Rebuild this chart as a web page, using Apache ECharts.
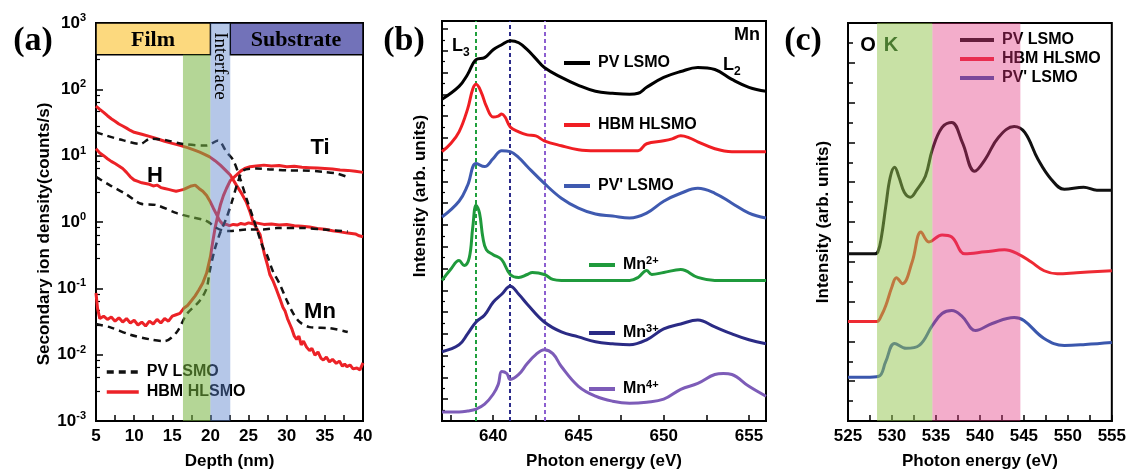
<!DOCTYPE html>
<html><head><meta charset="utf-8">
<script src="https://cdn.jsdelivr.net/npm/echarts@6/dist/echarts.min.js"></script>
<style>html,body{margin:0;padding:0;background:#fff}#c{width:1129px;height:475px}</style>
</head><body><div id="c"></div><script>
// ---------- Panel (a): SIMS depth profiles [depth nm, counts/s] ----------
const aHbmMn = [[5,56],[5.5,50],[6,45],[6.5,40],[7,36],[7.5,33],[8,30],[8.5,28],[9,26],[9.5,24],[10,22.5],[11,21],[12,19.5],[13,18],[14,16.5],[15,15.3],[16,14.3],[17,13.2],[18,12],[18.6,11.3],[19.3,10.4],[19.9,9.6],[20.6,8.4],[21.3,7.2],[22,6],[22.6,5.1],[23.4,3.6],[24,2.8],[24.7,2.0],[25.2,1.4],[25.6,1.0],[26,0.82],[26.5,0.65],[26.8,0.45],[27.1,0.32],[27.5,0.22],[27.8,0.16],[28.2,0.13],[28.7,0.093],[29.1,0.07],[29.5,0.052],[29.8,0.045],[30.1,0.035],[30.4,0.029],[30.7,0.024],[31,0.019],[31.3,0.017],[31.6,0.019],[31.9,0.014],[32.2,0.016],[32.6,0.013],[33,0.0115],[33.3,0.0125],[33.7,0.0098],[34.1,0.011],[34.5,0.0088],[34.8,0.0083],[35.2,0.0092],[35.6,0.0078],[36,0.0085],[36.5,0.0074],[36.9,0.008],[37.3,0.0067],[37.6,0.0072],[37.9,0.0066],[38.3,0.007],[38.7,0.0061],[39.2,0.0063],[39.6,0.0059],[40,0.0075]];
const aHbmH = [[5,12.7],[5.5,11],[6,10],[6.5,9],[7,8.2],[7.5,7.6],[8,7],[8.5,6.4],[9,5.6],[9.5,4.8],[10,4.3],[10.5,4.1],[11,3.9],[11.5,3.8],[12,3.7],[12.5,3.5],[13,3.6],[13.5,3.3],[14,3.2],[14.5,3.1],[15,3.0],[15.5,2.9],[16,3.0],[16.5,3.1],[17,3.3],[17.5,3.5],[18,3.6],[18.5,3.2],[19,2.9],[19.5,2.5],[20,2.0],[20.4,1.6],[20.8,1.3],[21.2,1.05],[21.7,0.9],[22,0.93],[22.5,0.88],[23,0.92],[23.5,0.9],[24,0.95],[24.5,0.92],[25,0.97],[25.5,0.94],[26,0.97],[27,0.92],[28,0.93],[29,0.9],[30,0.92],[31,0.88],[32,0.86],[33,0.84],[34,0.8],[35,0.78],[36,0.74],[37,0.71],[38,0.68],[39,0.66],[39.5,0.62],[40,0.6]];
const aHbmTi = [[5,0.085],[5.2,0.05],[5.5,0.035],[6,0.038],[6.5,0.034],[7,0.037],[7.5,0.032],[8,0.036],[8.5,0.031],[9,0.035],[9.5,0.03],[10,0.033],[10.5,0.028],[11,0.031],[11.5,0.027],[12,0.032],[12.5,0.029],[13,0.034],[13.5,0.03],[14,0.035],[14.5,0.032],[15,0.038],[15.5,0.04],[16,0.042],[16.5,0.05],[17,0.055],[17.5,0.065],[18,0.077],[18.5,0.095],[19,0.12],[19.5,0.17],[20,0.3],[20.3,0.5],[20.6,0.8],[21,1.3],[21.3,1.8],[21.7,2.5],[22.1,3.2],[22.6,4.2],[23.4,5.1],[24,5.9],[24.5,6.4],[25.2,6.8],[26,7.0],[27,7.2],[28,7.0],[29,7.1],[30,6.8],[31,6.9],[32,6.7],[33,6.6],[34,6.5],[35,6.4],[36,6.3],[37,6.1],[38,6.0],[39,5.8],[40,5.6]];
const aPvMn = [[5,22.6],[6.4,20],[8.6,17],[10.8,15],[12.1,18],[14.3,17],[16.4,15],[19.5,14.2],[21,17],[22.1,11.4],[23,8.5],[23.9,4.5],[24.7,2.3],[25.6,1.15],[26.3,0.65],[26.9,0.41],[27.4,0.32],[28.2,0.18],[29.1,0.115],[30,0.066],[30.9,0.041],[31.7,0.031],[33,0.026],[35.7,0.025],[38,0.022]];
const aPvTi = [[5,0.029],[6.8,0.026],[9.5,0.02],[12.1,0.017],[14,0.016],[15.6,0.022],[16.9,0.041],[18.6,0.065],[19.5,0.1],[19.9,0.18],[20.6,0.4],[21.3,0.7],[22.1,1.15],[22.8,2.0],[23.6,4.0],[24.3,6.0],[26,6.4],[28,6.2],[30.4,6.0],[32,6.0],[34.8,5.7],[36.5,5.4],[37.9,4.8]];
const aPvH = [[5,4.8],[6.8,3.6],[9,2.6],[10.8,1.9],[12.9,1.8],[15.6,1.36],[17.3,1.2],[19.1,1.08],[19.9,0.97],[20.5,0.85],[21.5,0.75],[22.6,0.73],[24.7,0.77],[26.9,0.77],[28.7,0.81],[32.2,0.81],[34.8,0.77],[37.4,0.73],[38,0.72]];
const aGreenBand = [16.4, 20];
const aInterfaceBand = [20, 22.6];

// ---------- Panel (b): Mn L-edge XAS [eV, intensity offset a.u.] ----------
const bPv = [[637,325],[638,338],[638.5,350],[639,365],[639.5,367],[640,375],[640.5,380],[641,384],[641.5,382],[642,375],[642.5,366],[643,357],[644,347],[645,339],[646,333],[647,331],[648,330],[648.5,331],[649,337],[650,347],[651,353],[652,357],[653,355],[654,345],[655,337],[656,333]];
const bHbm = [[637,272],[637.5,280],[638,292],[638.5,315],[638.8,335],[639,340],[639.3,332],[639.6,318],[640,307],[640.3,308],[640.5,310],[640.7,307],[641,297],[641.5,292],[642,289],[642.5,288],[643,283],[644,278],[645,274],[646,273],[647,273],[648,273],[648.5,273],[649,280],[650,283],[650.5,285],[651,288],[651.5,286],[652,282],[653,275],[654,272],[655,272],[656,272]];
const bPvp = [[637,206],[638,222],[638.5,238],[639,260],[639.5,257],[640,265],[640.5,273],[641,272],[641.5,266],[642,257],[643,240],[644,225],[645,215],[646,209],[647,207],[648,205],[649,210],[650,222],[651,230],[652,235],[653,230],[654,220],[655,210],[656,205]];
const bMn2 = [[637,142],[637.5,153],[638,162],[638.3,157],[638.6,165],[638.8,195],[639,218],[639.2,210],[639.4,185],[639.6,173],[640,168],[640.5,163],[641,148],[641.5,145],[642,148],[642.3,150],[643,148],[643.5,143],[644,142],[645,142],[646,142],[647,142],[648,142],[648.5,145],[649,152],[649.3,148],[650,150],[651,153],[652,145],[653,142],[654,142],[655,142],[656,142]];
const bMn3 = [[637,70],[638,77],[638.5,88],[639,100],[639.5,107],[640,120],[640.5,128],[641,136],[641.5,128],[642,118],[643,100],[644,90],[645,85],[646,80],[647,78],[648,77],[649,82],[650,93],[651,98],[652,102],[653,95],[654,88],[655,82],[656,78]];
const bMn4 = [[637,9],[638,9],[638.5,10],[639,12],[639.5,17],[640,27],[640.3,37],[640.5,50],[640.8,48],[641,42],[641.5,47],[642,58],[642.5,67],[643,72],[643.5,68],[644,55],[645,35],[646,25],[647,20],[648,18],[649,19],[650,22],[651,32],[652,38],[653,47],[653.5,48],[654,47],[655,35],[656,25]];
const bRefLines = [639, 641, 643];
const bXLabels = [640, 645, 650, 655];
const bXTicks = [637.5, 640, 642.5, 645, 647.5, 650, 652.5, 655];

// ---------- Panel (c): O K-edge XAS ----------
const cPv = [[525,168],[526,168],[527,168],[528,168],[528.4,170],[528.8,185],[529.3,216],[529.8,245],[530.3,255],[530.8,245],[531.4,230],[532.1,225],[532.8,232],[533.8,246],[534.6,273],[535.7,295],[536.8,300],[538,280],[539.4,251],[540.6,263],[542.1,285],[543.9,296],[545.1,290],[546.6,263],[548.1,243],[549.6,233],[551.8,235],[553.3,232],[555,232]];
const cHbm = [[525,100],[526,100],[527,100],[528.3,100],[528.8,106],[529.3,116],[530,135],[530.5,144],[531.2,138],[532.3,160],[533.3,190],[534.2,180],[535.7,187],[536.8,185],[538.3,168],[540.6,170],[542.8,172],[544.3,168],[545.8,160],[547.3,151],[548.8,148],[551,149],[555,151]];
const cPvp = [[525,44],[526,44],[527,44],[528.5,45],[529.3,60],[530.3,78],[531.6,73],[533.1,76],[534.6,96],[535.7,108],[536.8,111],[538,105],[539.5,91],[541.4,98],[543.9,104],[545,101],[547.3,83],[549.6,76],[552,77],[555,79]];
const cGreenBand = [528.3, 534.6];
const cPinkBand = [534.6, 544.6];

const SANS = 'Liberation Sans, Arial, sans-serif';
const SERIF = 'Liberation Serif, Times New Roman, serif';
const chart = echarts.init(document.getElementById('c'));

function line(name, data, idx, color, width, dash, smooth) {
  return {type: 'line', name: name, data: data, xAxisIndex: idx, yAxisIndex: idx,
    symbol: 'none', showSymbol: false, smooth: smooth || false, z: 2,
    lineStyle: {color: color, width: width, type: dash || 'solid'}, itemStyle: {color: color}};
}
const FS = 17;
function xAx(idx, min, max, name, extra) {
  return Object.assign({gridIndex: idx, type: 'value', min: min, max: max,
    axisLine: {show: true, onZero: false, lineStyle: {color: '#000', width: 2}},
    axisTick: {inside: true, length: 6, lineStyle: {color: '#000', width: 1.5}},
    minorTick: {show: true, splitNumber: 2, length: 6, lineStyle: {color: '#000', width: 1.5}},
    axisLabel: {color: '#000', fontSize: FS, fontWeight: 'bold', fontFamily: SANS, margin: 7},
    splitLine: {show: false},
    name: name, nameLocation: 'middle', nameGap: 32,
    nameTextStyle: {color: '#000', fontSize: FS, fontWeight: 'bold', fontFamily: SANS}}, extra);
}
const supRich = {
  b: {fontSize: FS, fontWeight: 'bold', fontFamily: SANS, color: '#000'},
  s: {fontSize: 11, fontWeight: 'bold', fontFamily: SANS, color: '#000', verticalAlign: 'bottom', padding: [0, 0, 10, 0]}
};
const legendFmt = n => {
  const t = n.slice(2);
  const m = t.match(/^Mn(\d\+)$/);
  return m ? '{n|Mn}{s|' + m[1] + '}' : '{n|' + t + '}';
};
const legText = {color: '#000', fontSize: 16, fontWeight: 'bold', fontFamily: SANS, padding: [0, 0, 0, 3],
  rich: {n: {fontSize: 16, fontWeight: 'bold', fontFamily: SANS, color: '#000', lineHeight: 18},
         s: {fontSize: 11, fontWeight: 'bold', fontFamily: SANS, color: '#000', verticalAlign: 'bottom', padding: [0, 0, 9, 0]}}};
function leg(names, left, top, w, gap, lw) {
  return {data: names, left: left, top: top, orient: 'vertical', padding: 0, itemWidth: w, itemHeight: 14,
    itemGap: gap, z: 1, selectedMode: false, formatter: legendFmt, textStyle: legText,
    itemStyle: {opacity: 0}, lineStyle: {width: lw}};
}

const RED = '#ec2227', BLK = '#111111';
const option = {
  animation: false,
  backgroundColor: '#fff',
  grid: [
    {left: 96, top: 23, width: 267, height: 402, show: true, borderColor: '#000', borderWidth: 2, backgroundColor: 'transparent'},
    {left: 442, top: 21, width: 324, height: 404, show: true, borderColor: '#000', borderWidth: 2, backgroundColor: 'transparent'},
    {left: 848, top: 23, width: 267, height: 400, show: true, borderColor: '#000', borderWidth: 2, backgroundColor: 'transparent'}
  ],
  xAxis: [
    xAx(0, 5, 40, 'Depth (nm)', {interval: 5}),
    xAx(1, 637, 656, 'Photon energy (eV)', {minorTick: {show: false},
      axisLabel: {color: '#000', fontSize: FS, fontWeight: 'bold', fontFamily: SANS, margin: 7, customValues: bXLabels},
      axisTick: {inside: true, length: 6, lineStyle: {color: '#000', width: 1.5}, customValues: bXTicks}}),
    xAx(2, 525, 555, 'Photon energy (eV)', {interval: 5})
  ],
  yAxis: [
    {gridIndex: 0, type: 'log', logBase: 10, min: 0.001, max: 1000, splitNumber: 6,
      axisLine: {show: true, lineStyle: {color: '#000', width: 2}},
      axisTick: {inside: true, length: 7, lineStyle: {color: '#000', width: 1.5}},
      minorTick: {show: true, splitNumber: 5, length: 4, lineStyle: {color: '#000', width: 1.2}},
      splitLine: {show: false},
      axisLabel: {margin: 10, formatter: v => '{b|10}{s|' + Math.round(Math.log10(v)) + '}', rich: supRich},
      name: 'Secondary ion density(counts/s)', nameLocation: 'middle', nameGap: 43,
      nameTextStyle: {color: '#000', fontSize: FS, fontWeight: 'bold', fontFamily: SANS, padding: [0, 24, 0, 0]}},
    {gridIndex: 1, type: 'value', min: 0, max: 404, interval: 22,
      axisLine: {show: true, lineStyle: {color: '#000', width: 2}},
      axisTick: {inside: true, length: 6, lineStyle: {color: '#000', width: 1.5}},
      minorTick: {show: true, splitNumber: 2, length: 3, lineStyle: {color: '#000', width: 1.2}},
      splitLine: {show: false}, axisLabel: {show: false},
      name: 'Intensity (arb. units)', nameLocation: 'middle', nameGap: 13,
      nameTextStyle: {color: '#000', fontSize: FS, fontWeight: 'bold', fontFamily: SANS, padding: [0, 0, 0, 50]}},
    {gridIndex: 2, type: 'value', min: 0, max: 400, interval: 40,
      axisLine: {show: true, lineStyle: {color: '#000', width: 2}},
      axisTick: {inside: true, length: 7, lineStyle: {color: '#000', width: 1.5}},
      minorTick: {show: true, splitNumber: 2, length: 5, lineStyle: {color: '#000', width: 1.5}},
      splitLine: {show: false}, axisLabel: {show: false},
      name: 'Intensity (arb. units)', nameLocation: 'middle', nameGap: 16,
      nameTextStyle: {color: '#000', fontSize: FS, fontWeight: 'bold', fontFamily: SANS}}
  ],
  legend: [
    leg(['a:PV LSMO', 'a:HBM HLSMO'], 105, 364, 32, 4, 3.5),
    leg(['c:PV LSMO', 'c:HBM HLSMO', 'c:PV\' LSMO'], 958, 32, 34, 3, 4),
    leg(['b:PV LSMO'], 562, 55, 26, 4, 4),
    leg(['b:HBM HLSMO'], 562, 117, 26, 4, 4),
    leg(['b:PV\' LSMO'], 562, 178, 26, 4, 4),
    leg(['b:Mn2+'], 587, 255, 26, 4, 4),
    leg(['b:Mn3+'], 587, 323, 26, 4, 4),
    leg(['b:Mn4+'], 587, 379, 26, 4, 4)
  ],
  series: [
    // panel a strip (Film / Substrate)
    {type: 'line', data: [], xAxisIndex: 0, yAxisIndex: 0, silent: true, z: 3,
      markArea: {silent: true, z: 3, data: [
        [{xAxis: 5, yAxis: 333, itemStyle: {color: '#fcd97e', borderColor: '#000', borderWidth: 1.5}}, {xAxis: aInterfaceBand[0], yAxis: 1000}],
        [{xAxis: aInterfaceBand[1], yAxis: 333, itemStyle: {color: '#7272b9', borderColor: '#000', borderWidth: 1.5}}, {xAxis: 40, yAxis: 1000}]
      ]}},
    line('a:HBM HLSMO', aHbmMn, 0, RED, 3),
    line('a:HBM HLSMO', aHbmH, 0, RED, 3),
    line('a:HBM HLSMO', aHbmTi, 0, RED, 3),
    line('a:PV LSMO', aPvMn, 0, BLK, 2.5, [7, 5], 0.3),
    line('a:PV LSMO', aPvTi, 0, BLK, 2.5, [7, 5], 0.3),
    line('a:PV LSMO', aPvH, 0, BLK, 2.5, [7, 5], 0.3),
    // panel a overlay bands
    {type: 'line', data: [], xAxisIndex: 0, yAxisIndex: 0, silent: true, z: 10,
      markArea: {silent: true, z: 10, data: [
        [{xAxis: aGreenBand[0], yAxis: 0.001, itemStyle: {color: 'rgba(119,180,64,0.55)'}}, {xAxis: aGreenBand[1], yAxis: 333}],
        [{xAxis: aInterfaceBand[0], yAxis: 0.001, itemStyle: {color: 'rgba(90,130,205,0.45)'}}, {xAxis: aInterfaceBand[1], yAxis: 1000}]
      ]}},
    // panel b
    {type: 'line', data: [], xAxisIndex: 1, yAxisIndex: 1, silent: true, z: 1,
      markLine: {silent: true, symbol: ['none', 'none'], label: {show: false}, z: 1, data: [
        {xAxis: bRefLines[0], lineStyle: {color: '#1fa03c', type: [4, 3], width: 2}},
        {xAxis: bRefLines[1], lineStyle: {color: '#2b2b8a', type: [4, 3], width: 2}},
        {xAxis: bRefLines[2], lineStyle: {color: '#8c5fd0', type: [4, 3], width: 2}}
      ]}},
    line('b:PV LSMO', bPv, 1, '#000000', 3, null, 0.4),
    line('b:HBM HLSMO', bHbm, 1, '#f01e23', 3, null, 0.4),
    line('b:PV\' LSMO', bPvp, 1, '#3f5ab0', 3, null, 0.4),
    line('b:Mn2+', bMn2, 1, '#1f9a3c', 3, null, 0.4),
    line('b:Mn3+', bMn3, 1, '#2b2b85', 3, null, 0.4),
    line('b:Mn4+', bMn4, 1, '#7d5cb8', 3, null, 0.4),
    // panel c
    line('c:PV LSMO', cPv, 2, '#111111', 3, null, 0.4),
    line('c:HBM HLSMO', cHbm, 2, '#ee2a33', 3, null, 0.4),
    line('c:PV\' LSMO', cPvp, 2, '#3a57ad', 3, null, 0.4),
    {type: 'line', data: [], xAxisIndex: 2, yAxisIndex: 2, silent: true, z: 10,
      markArea: {silent: true, z: 10, data: [
        [{xAxis: cGreenBand[0], yAxis: 0, itemStyle: {color: 'rgba(145,195,75,0.5)'}}, {xAxis: cGreenBand[1], yAxis: 400}],
        [{xAxis: cPinkBand[0], yAxis: 0, itemStyle: {color: 'rgba(225,50,125,0.4)'}}, {xAxis: cPinkBand[1], yAxis: 400}]
      ]}}
  ],
  graphic: [
    {type: 'text', x: 33, y: 41, z: 100, style: {text: '(a)', font: 'bold 34px ' + SERIF, fill: '#000', align: 'center', verticalAlign: 'middle', textAlign: 'center', textVerticalAlign: 'middle'}},
    {type: 'text', x: 404, y: 41, z: 100, style: {text: '(b)', font: 'bold 34px ' + SERIF, fill: '#000', align: 'center', verticalAlign: 'middle', textAlign: 'center', textVerticalAlign: 'middle'}},
    {type: 'text', x: 803, y: 41, z: 100, style: {text: '(c)', font: 'bold 34px ' + SERIF, fill: '#000', align: 'center', verticalAlign: 'middle', textAlign: 'center', textVerticalAlign: 'middle'}},
    {type: 'text', x: 153, y: 40, z: 100, style: {text: 'Film', font: 'bold 22px ' + SERIF, fill: '#000', align: 'center', verticalAlign: 'middle', textAlign: 'center', textVerticalAlign: 'middle'}},
    {type: 'text', x: 296, y: 40, z: 100, style: {text: 'Substrate', font: 'bold 22px ' + SERIF, fill: '#000', align: 'center', verticalAlign: 'middle', textAlign: 'center', textVerticalAlign: 'middle'}},
    {type: 'text', x: 220, y: 66, z: 100, rotation: -Math.PI / 2, style: {text: 'Interface', font: '19px ' + SERIF, fill: '#000', align: 'center', verticalAlign: 'middle', textAlign: 'center', textVerticalAlign: 'middle'}},
    {type: 'text', x: 155, y: 176, z: 100, style: {text: 'H', font: 'bold 22px ' + SANS, fill: '#000', align: 'center', verticalAlign: 'middle', textAlign: 'center', textVerticalAlign: 'middle'}},
    {type: 'text', x: 320, y: 148, z: 100, style: {text: 'Ti', font: 'bold 22px ' + SANS, fill: '#000', align: 'center', verticalAlign: 'middle', textAlign: 'center', textVerticalAlign: 'middle'}},
    {type: 'text', x: 320, y: 312, z: 100, style: {text: 'Mn', font: 'bold 22px ' + SANS, fill: '#000', align: 'center', verticalAlign: 'middle', textAlign: 'center', textVerticalAlign: 'middle'}},
    {type: 'text', x: 452, y: 48, z: 100, style: {text: '{l|L}{s|3}', fill: '#000', align: 'left', verticalAlign: 'middle', textAlign: 'left', textVerticalAlign: 'middle',
      rich: {l: {font: 'bold 18px ' + SANS, fill: '#000', color: '#000', verticalAlign: 'top'}, s: {font: 'bold 12px ' + SANS, fill: '#000', color: '#000', verticalAlign: 'top', padding: [9, 0, 0, 0]}}}},
    {type: 'text', x: 760, y: 35, z: 100, style: {text: 'Mn', font: 'bold 18px ' + SANS, fill: '#000', align: 'right', verticalAlign: 'middle', textAlign: 'right', textVerticalAlign: 'middle'}},
    {type: 'text', x: 723, y: 67, z: 100, style: {text: '{l|L}{s|2}', fill: '#000', align: 'left', verticalAlign: 'middle', textAlign: 'left', textVerticalAlign: 'middle',
      rich: {l: {font: 'bold 18px ' + SANS, fill: '#000', color: '#000', verticalAlign: 'top'}, s: {font: 'bold 12px ' + SANS, fill: '#000', color: '#000', verticalAlign: 'top', padding: [9, 0, 0, 0]}}}},
    {type: 'text', x: 868, y: 45, z: 100, style: {text: 'O', font: 'bold 20px ' + SANS, fill: '#000', align: 'center', verticalAlign: 'middle', textAlign: 'center', textVerticalAlign: 'middle'}},
    {type: 'text', x: 891, y: 45, z: 100, style: {text: 'K', font: 'bold 20px ' + SANS, fill: '#4a7a30', align: 'center', verticalAlign: 'middle', textAlign: 'center', textVerticalAlign: 'middle'}}
  ]
};
chart.setOption(option);
</script></body></html>
